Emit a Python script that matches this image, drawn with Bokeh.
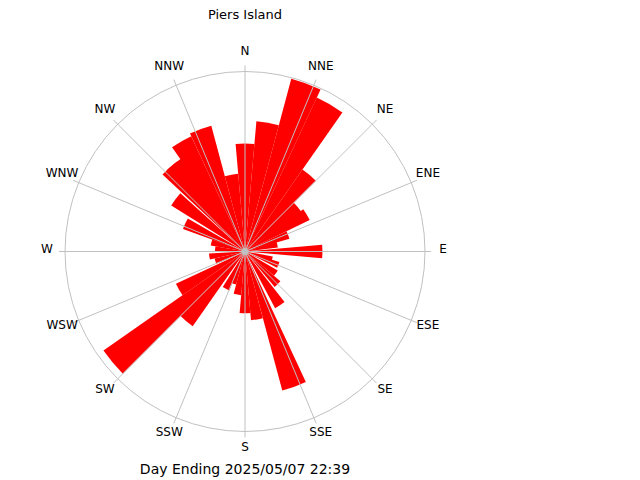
import math
from bokeh.plotting import figure
from bokeh.models import Range1d
from bokeh.embed import file_html
from bokeh.resources import INLINE
from bokeh.core.properties import value

# ---- data ----
title = "Piers Island"
footer = "Day Ending 2025/05/07 22:39"
compass_labels = ["N", "NNE", "NE", "ENE", "E", "ESE", "SE", "SSE",
                  "S", "SSW", "SW", "WSW", "W", "WNW", "NW", "NNW"]
# wedge centre directions (deg, clockwise from north)
directions = [0, 10, 20, 30, 40, 50, 59, 69, 78, 90, 105, 112, 125, 135, 147,
              160, 170, 180, 190, 200, 207, 220, 230, 240, 252, 262, 275, 285,
              295, 307, 318, 321, 330, 340, 350]
# wedge lengths (outer ring = 30)
speeds = [18.0, 21.8, 29.8, 28.3, 16.7, 11.5, 12.0, 7.7, 5.5, 12.9, 4.7, 6.0,
          6.3, 7.7, 10.7, 24.0, 11.5, 10.3, 7.3, 5.7, 7.0, 15.2, 28.8, 12.7,
          5.2, 6.0, 5.0, 5.8, 11.0, 14.5, 18.8, 18.8, 21.2, 21.7, 13.0]
ring_value = 30
wedge_width = 10

# ---- figure ----
PX = 6.0  # pixels per unit
cx, cy = 244.5, 251.0
p = figure(width=640, height=480,
           x_range=Range1d(-cx / PX, (640 - cx) / PX),
           y_range=Range1d((cy - 480) / PX, cy / PX),
           x_axis_type=None, y_axis_type=None,
           output_backend="svg", toolbar_location=None, min_border=0)
p.grid.visible = False
p.outline_line_color = None
p.background_fill_color = "white"
p.border_fill_color = "white"

start = [90 - (d + wedge_width / 2) for d in directions]
end = [90 - (d - wedge_width / 2) for d in directions]
p.wedge(x=0, y=0, radius=speeds, start_angle=start, end_angle=end,
        start_angle_units="deg", end_angle_units="deg", direction="anticlock",
        fill_color="#ff0000", line_color=None)

grid_col = "#c0c0c0"
p.circle(x=[0], y=[0], radius=ring_value, fill_color=None,
         line_color=grid_col, line_width=1)
spoke_len = ring_value + 1.0
angs = [i * 22.5 for i in range(16)]
p.segment(x0=[0] * 16, y0=[0] * 16,
          x1=[spoke_len * math.sin(math.radians(a)) for a in angs],
          y1=[spoke_len * math.cos(math.radians(a)) for a in angs],
          line_color=grid_col, line_width=1)
p.circle(x=[0], y=[0], radius=3.5 / PX, fill_color=grid_col, line_color=None)

lab_r = 33.0
p.text(x=[lab_r * math.sin(math.radians(a)) for a in angs],
       y=[lab_r * math.cos(math.radians(a)) + 2.5 / PX for a in angs],
       text=compass_labels, text_align="center", text_baseline="middle",
       text_font=value("DejaVu Sans"), text_font_size="12px", text_color="black")

p.text(x=[0], y=[(cy - 14) / PX], text=[title], text_align="center",
       text_baseline="middle", text_font=value("DejaVu Sans"),
       text_font_size="13px", text_color="black")
p.text(x=[0], y=[(cy - 468) / PX], text=[footer], text_align="center",
       text_baseline="middle", text_font=value("DejaVu Sans"),
       text_font_size="14px", text_color="black")

open("out.html", "w").write(file_html(p, INLINE))
